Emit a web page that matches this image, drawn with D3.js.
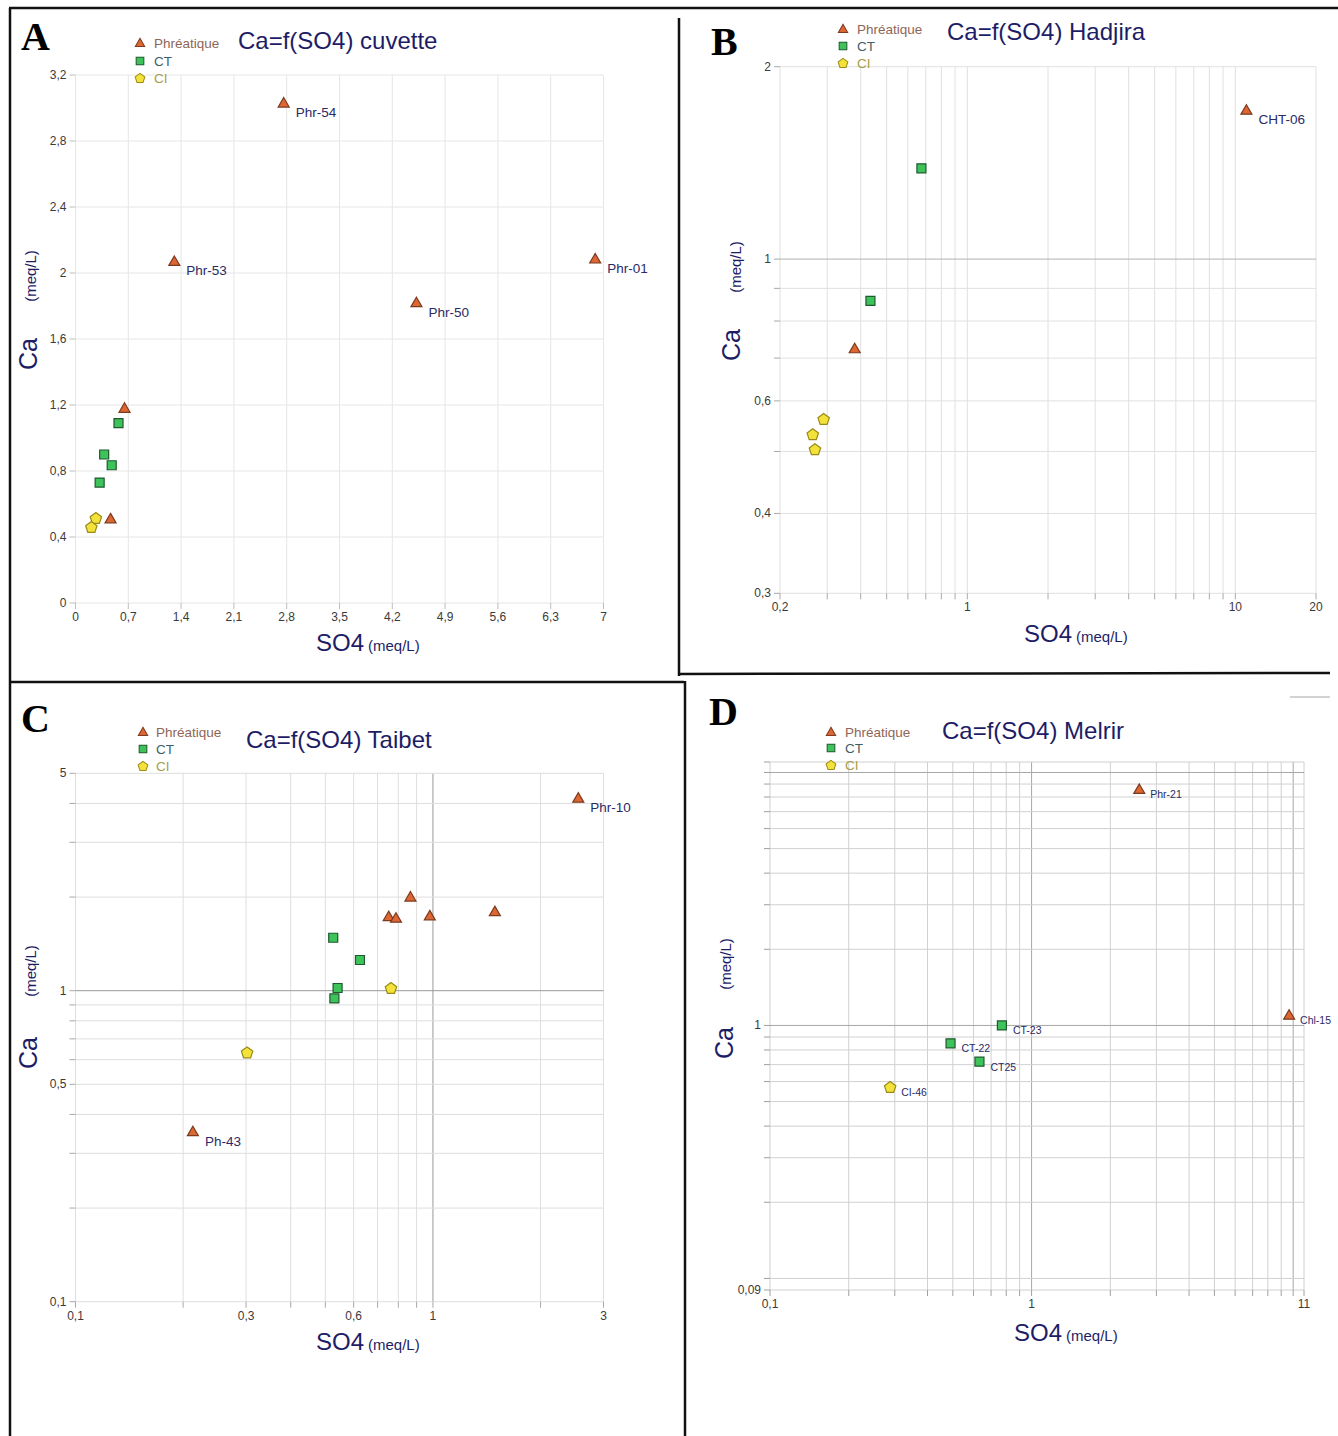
<!DOCTYPE html>
<html>
<head>
<meta charset="utf-8">
<script src="https://cdn.jsdelivr.net/npm/d3@7"></script>
<style>
  body { margin: 0; background: #fff; }
  svg { display: block; }
  text { font-family: "Liberation Sans", Arial, sans-serif; }
</style>
</head>
<body>
<svg id="fig" width="1338" height="1436"></svg>
<script>
// ---------- Panel A : Ca=f(SO4) cuvette (linear axes) ----------
const cuvettePhrSO4   = [2.76, 1.31, 4.52, 6.89, 0.65, 0.465];
const cuvettePhrCa    = [3.03, 2.07, 1.82, 2.085, 1.18, 0.51];
const cuvettePhrNames = ["Phr-54", "Phr-53", "Phr-50", "Phr-01", "", ""];
const cuvetteCtSO4    = [0.57, 0.38, 0.48, 0.32];
const cuvetteCtCa     = [1.09, 0.90, 0.835, 0.73];
const cuvetteCiSO4    = [0.27, 0.21];
const cuvetteCiCa     = [0.515, 0.46];
const cuvetteXTicks   = [0, 0.7, 1.4, 2.1, 2.8, 3.5, 4.2, 4.9, 5.6, 6.3, 7];
const cuvetteYTicks   = [0, 0.4, 0.8, 1.2, 1.6, 2, 2.4, 2.8, 3.2];

// ---------- Panel B : Ca=f(SO4) Hadjira (log axes) ----------
const hadjiraPhrSO4   = [11.0, 0.38];
const hadjiraPhrCa    = [1.71, 0.724];
const hadjiraPhrNames = ["CHT-06", ""];
const hadjiraCtSO4    = [0.674, 0.435];
const hadjiraCtCa     = [1.387, 0.86];
const hadjiraCiSO4    = [0.291, 0.265, 0.27];
const hadjiraCiCa     = [0.562, 0.532, 0.504];
const hadjiraXLabels  = [0.2, 1, 10, 20];
const hadjiraYLabels  = [0.3, 0.4, 0.6, 1, 2];

// ---------- Panel C : Ca=f(SO4) Taibet (log axes) ----------
const taibetPhrSO4    = [2.55, 0.865, 0.752, 0.788, 0.98, 1.49, 0.213];
const taibetPhrCa     = [4.16, 2.0, 1.73, 1.71, 1.74, 1.795, 0.352];
const taibetPhrNames  = ["Phr-10", "", "", "", "", "", "Ph-43"];
const taibetCtSO4     = [0.526, 0.625, 0.541, 0.53];
const taibetCtCa      = [1.48, 1.255, 1.02, 0.944];
const taibetCiSO4     = [0.763, 0.302];
const taibetCiCa      = [1.02, 0.633];
const taibetXLabels   = [0.1, 0.3, 0.6, 1, 3];
const taibetYLabels   = [0.1, 0.5, 1, 5];

// ---------- Panel D : Ca=f(SO4) Melrir (log axes) ----------
const melrirPhrSO4    = [2.58, 9.65];
const melrirPhrCa     = [8.57, 1.098];
const melrirPhrNames  = ["Phr-21", "Chl-15"];
const melrirCtSO4     = [0.77, 0.49, 0.632];
const melrirCtCa      = [1.0, 0.85, 0.719];
const melrirCtNames   = ["CT-23", "CT-22", "CT25"];
const melrirCiSO4     = [0.288];
const melrirCiCa      = [0.571];
const melrirCiNames   = ["CI-46"];
const melrirXLabels   = [0.1, 1, 11];
const melrirYLabels   = [0.09, 1];

const legendNames = ["Phréatique", "CT", "CI"];

// ---------- styles ----------
const NAVY = "#1d1d66";
const kinds = {
  phr: { fill: "#dd6633", stroke: "#7a3b1e", text: "#8e6656" },
  ct:  { fill: "#3ec25a", stroke: "#1e5a2e", text: "#3f5f66" },
  ci:  { fill: "#f2e23a", stroke: "#9a8a18", text: "#a69c4a" }
};

function markerPath(kind) {
  if (kind === "phr") return "M0,-5.5L5.5,4L-5.5,4Z";
  if (kind === "ct") return "M-4.5,-4.5H4.5V4.5H-4.5Z";
  const r = 6, pts = d3.range(5).map(i => {
    const a = -Math.PI / 2 + i * 2 * Math.PI / 5;
    return [r * Math.cos(a), r * Math.sin(a) + 0.5];
  });
  return "M" + pts.map(p => p.join(",")).join("L") + "Z";
}

const fmt = v => String(v).replace(".", ",");
const svg = d3.select("#fig");

// ---------- figure frame ----------
const frame = svg.append("g").attr("stroke", "#111").attr("fill", "none");
frame.append("line").attr("x1", 9).attr("x2", 1338).attr("y1", 8).attr("y2", 8).attr("stroke-width", 2.5);
frame.append("line").attr("x1", 10).attr("x2", 10).attr("y1", 8).attr("y2", 1436).attr("stroke-width", 2.5);
frame.append("line").attr("x1", 679).attr("x2", 679).attr("y1", 18).attr("y2", 676).attr("stroke-width", 2.5);
frame.append("line").attr("x1", 10).attr("x2", 684).attr("y1", 682).attr("y2", 682).attr("stroke-width", 2.5);
frame.append("line").attr("x1", 679).attr("x2", 1330).attr("y1", 674).attr("y2", 673).attr("stroke-width", 2.5);
frame.append("line").attr("x1", 685).attr("x2", 685).attr("y1", 681).attr("y2", 1436).attr("stroke-width", 2.5);
svg.append("line").attr("x1", 1290).attr("x2", 1330).attr("y1", 697).attr("y2", 697)
  .attr("stroke", "#c4c4c4").attr("stroke-width", 1.5);

function drawPanel(p) {
  const g = svg.append("g");
  const x = (p.log ? d3.scaleLog() : d3.scaleLinear()).domain(p.xDomain).range([p.left, p.right]);
  const y = (p.log ? d3.scaleLog() : d3.scaleLinear()).domain(p.yDomain).range([p.bottom, p.top]);

  const uniq = a => Array.from(new Set(a.map(v => +v.toPrecision(6)))).sort((a, b) => a - b);
  const xGrid = p.log ? uniq([...x.ticks(), ...p.xDomain]) : p.xLabels;
  const yGrid = p.log ? uniq([...y.ticks(), ...p.yDomain]) : p.yLabels;
  // decades at or above 1 inside the plot get a darker rule
  const strong = v => p.log && v >= 1 && Math.abs(Math.log10(v) - Math.round(Math.log10(v))) < 1e-9;
  const xColor = v => (p.strongX && strong(v)) ? p.decadeColor : p.gridColor;
  const yColor = v => (p.strongY && strong(v)) ? p.decadeColor : p.gridColor;

  // gridlines
  g.append("g").selectAll("line").data(xGrid).join("line")
    .attr("x1", d => x(d)).attr("x2", d => x(d))
    .attr("y1", p.top).attr("y2", p.bottom)
    .attr("stroke", xColor).attr("stroke-width", 1);
  g.append("g").selectAll("line").data(yGrid).join("line")
    .attr("x1", p.left).attr("x2", p.right)
    .attr("y1", d => y(d)).attr("y2", d => y(d))
    .attr("stroke", yColor).attr("stroke-width", 1);

  // tick marks outside the plot
  g.append("g").selectAll("line").data(xGrid).join("line")
    .attr("x1", d => x(d)).attr("x2", d => x(d))
    .attr("y1", p.bottom).attr("y2", p.bottom + 6)
    .attr("stroke", p.tickColor);
  g.append("g").selectAll("line").data(yGrid).join("line")
    .attr("x1", p.left - 6).attr("x2", p.left)
    .attr("y1", d => y(d)).attr("y2", d => y(d))
    .attr("stroke", p.tickColor);

  // tick labels
  g.append("g").selectAll("text").data(p.xLabels).join("text")
    .attr("x", d => x(d)).attr("y", p.bottom + 18)
    .attr("text-anchor", "middle").attr("font-size", 12).attr("fill", "#3a3a3a")
    .text(fmt);
  g.append("g").selectAll("text").data(p.yLabels).join("text")
    .attr("x", p.left - 9).attr("y", d => y(d) + 4)
    .attr("text-anchor", "end").attr("font-size", 12).attr("fill", "#3a3a3a")
    .text(fmt);

  // axis titles
  const xt = g.append("text").attr("x", p.xTitle[0]).attr("y", p.xTitle[1]).attr("fill", NAVY);
  xt.append("tspan").attr("font-size", 24).text("SO4");
  xt.append("tspan").attr("font-size", 15).attr("dx", 4).text("(meq/L)");
  g.append("text").attr("transform", `translate(${p.yTitle[0]},${p.yTitle[1]}) rotate(-90)`)
    .attr("text-anchor", "middle").attr("font-size", 25).attr("fill", NAVY).text("Ca");
  g.append("text").attr("transform", `translate(${p.yUnit[0]},${p.yUnit[1]}) rotate(-90)`)
    .attr("text-anchor", "middle").attr("font-size", 15).attr("fill", NAVY).text("(meq/L)");

  // panel letter and title
  g.append("text").attr("x", p.letter[0]).attr("y", p.letter[1])
    .style("font-family", '"Liberation Serif", "Times New Roman", serif')
    .attr("font-weight", "bold").attr("font-size", 40).attr("fill", "#000").text(p.letterText);
  g.append("text").attr("x", p.title[0]).attr("y", p.title[1])
    .attr("font-size", 24).attr("fill", NAVY).text(p.titleText);

  // legend
  const lg = g.append("g");
  ["phr", "ct", "ci"].forEach((k, i) => {
    lg.append("path").attr("d", markerPath(k))
      .attr("transform", `translate(${p.legend.mx},${p.legend.rows[i]}) scale(0.85)`)
      .attr("fill", kinds[k].fill).attr("stroke", kinds[k].stroke).attr("stroke-width", 1.2);
    lg.append("text").attr("x", p.legend.tx).attr("y", p.legend.rows[i] + 5)
      .attr("font-size", 13.5).attr("fill", kinds[k].text).text(legendNames[i]);
  });

  // points and their labels
  p.series.forEach(s => {
    const pts = s.so4.map((v, i) => ({ x: v, y: s.ca[i], name: (s.names || [])[i] || "" }));
    const sg = g.append("g");
    sg.selectAll("path").data(pts).join("path")
      .attr("d", markerPath(s.kind))
      .attr("transform", d => `translate(${x(d.x)},${y(d.y)})`)
      .attr("fill", kinds[s.kind].fill).attr("stroke", kinds[s.kind].stroke).attr("stroke-width", 1.2);
    sg.selectAll("text").data(pts.filter(d => d.name)).join("text")
      .attr("x", d => x(d.x) + p.labelOffset[0]).attr("y", d => y(d.y) + p.labelOffset[1])
      .attr("font-size", p.labelSize).attr("fill", "#2a2a66").text(d => d.name);
  });
}

drawPanel({
  log: false, xDomain: [0, 7], yDomain: [0, 3.2],
  left: 75.5, right: 603.5, top: 75, bottom: 603,
  xLabels: cuvetteXTicks, yLabels: cuvetteYTicks,
  gridColor: "#e6e6e6", decadeColor: "#e6e6e6", tickColor: "#bdbdbd",
  xTitle: [316, 651], yTitle: [37, 354], yUnit: [36, 276],
  letterText: "A", letter: [21, 50], titleText: "Ca=f(SO4) cuvette", title: [238, 49],
  legend: { mx: 140, tx: 154, rows: [43, 61, 78] },
  labelOffset: [12, 14], labelSize: 13.5,
  series: [
    { kind: "phr", so4: cuvettePhrSO4, ca: cuvettePhrCa, names: cuvettePhrNames },
    { kind: "ct", so4: cuvetteCtSO4, ca: cuvetteCtCa },
    { kind: "ci", so4: cuvetteCiSO4, ca: cuvetteCiCa }
  ]
});

drawPanel({
  log: true, xDomain: [0.2, 20], yDomain: [0.3, 2],
  left: 780, right: 1316, top: 66.7, bottom: 593.3,
  xLabels: hadjiraXLabels, yLabels: hadjiraYLabels,
  gridColor: "#e0e0e0", decadeColor: "#b0b0b0", tickColor: "#a8a8a8",
  strongX: false, strongY: true,
  xTitle: [1024, 642], yTitle: [740, 345], yUnit: [741, 267],
  letterText: "B", letter: [711, 55], titleText: "Ca=f(SO4) Hadjira", title: [947, 40],
  legend: { mx: 843, tx: 857, rows: [29, 46, 63] },
  labelOffset: [12, 14], labelSize: 13.5,
  series: [
    { kind: "phr", so4: hadjiraPhrSO4, ca: hadjiraPhrCa, names: hadjiraPhrNames },
    { kind: "ct", so4: hadjiraCtSO4, ca: hadjiraCtCa },
    { kind: "ci", so4: hadjiraCiSO4, ca: hadjiraCiCa }
  ]
});

drawPanel({
  log: true, xDomain: [0.1, 3], yDomain: [0.1, 5],
  left: 75.5, right: 603.5, top: 773.3, bottom: 1301.7,
  xLabels: taibetXLabels, yLabels: taibetYLabels,
  gridColor: "#dedede", decadeColor: "#9a9a9a", tickColor: "#a8a8a8",
  strongX: true, strongY: true,
  xTitle: [316, 1350], yTitle: [37, 1053], yUnit: [36, 971],
  letterText: "C", letter: [21, 732], titleText: "Ca=f(SO4) Taibet", title: [246, 748],
  legend: { mx: 143, tx: 156, rows: [732, 749, 766] },
  labelOffset: [12, 14], labelSize: 13.5,
  series: [
    { kind: "phr", so4: taibetPhrSO4, ca: taibetPhrCa, names: taibetPhrNames },
    { kind: "ct", so4: taibetCtSO4, ca: taibetCtCa },
    { kind: "ci", so4: taibetCiSO4, ca: taibetCiCa }
  ]
});

drawPanel({
  log: true, xDomain: [0.1, 11], yDomain: [0.09, 11],
  left: 770, right: 1304, top: 762, bottom: 1290,
  xLabels: melrirXLabels, yLabels: melrirYLabels,
  gridColor: "#d0d0d0", decadeColor: "#a6a6a6", tickColor: "#a0a0a0",
  strongX: true, strongY: true,
  xTitle: [1014, 1341], yTitle: [733, 1043], yUnit: [731, 964],
  letterText: "D", letter: [709, 725], titleText: "Ca=f(SO4) Melrir", title: [942, 739],
  legend: { mx: 831, tx: 845, rows: [732, 748, 765] },
  labelOffset: [11, 9], labelSize: 10.5,
  series: [
    { kind: "phr", so4: melrirPhrSO4, ca: melrirPhrCa, names: melrirPhrNames },
    { kind: "ct", so4: melrirCtSO4, ca: melrirCtCa, names: melrirCtNames },
    { kind: "ci", so4: melrirCiSO4, ca: melrirCiCa, names: melrirCiNames }
  ]
});
</script>
</body>
</html>
